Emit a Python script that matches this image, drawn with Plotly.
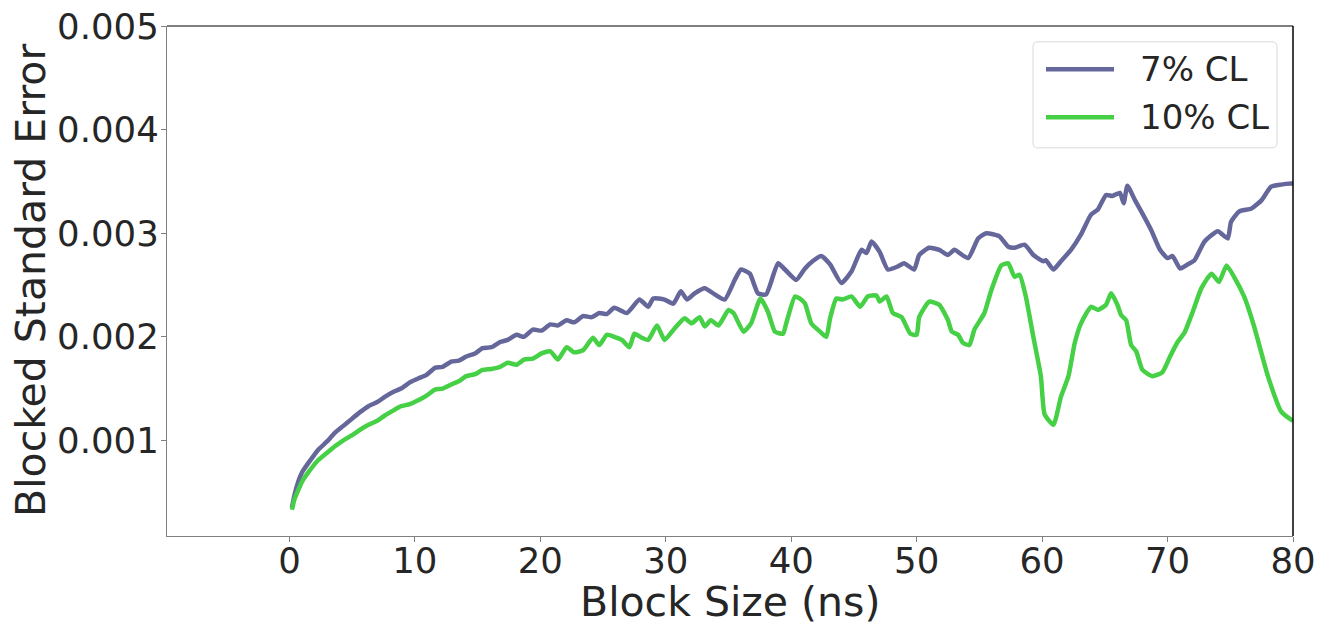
import plotly.graph_objects as go

# ---- data ----
x_7 = [0.2, 0.4, 0.7, 1.0, 1.5, 2.3, 3.0, 3.6, 4.3, 5.0, 5.6, 6.3, 7.0, 7.6, 8.3, 8.9, 9.6, 10.3,
       10.9, 11.6, 12.2, 12.9, 13.5, 14.1, 14.8, 15.4, 16.1, 16.8, 17.4, 18.1, 18.7, 19.4, 20.1,
       20.8, 21.4, 22.1, 22.7, 23.4, 24.1, 24.7, 25.3, 25.9, 26.9, 27.9, 28.6, 29.0, 29.9, 30.6,
       31.2, 31.7, 32.3, 33.1, 33.9, 34.7, 35.5, 36.0, 36.7, 37.35, 38.0, 38.95, 39.5, 40.4, 41.1,
       41.7, 42.4, 43.1, 44.0, 44.8, 45.6, 46.0, 46.4, 47.05, 47.7, 48.5, 49.0, 49.8, 50.2, 51.0,
       51.8, 52.5, 53.0, 54.1, 54.9, 55.55, 56.6, 57.3, 57.8, 58.6, 59.3, 60.1, 60.3, 60.9, 61.5,
       62.3, 63.1, 63.9, 64.45, 65.1, 65.6, 66.2, 66.5, 66.8, 67.4, 68.0, 68.7, 69.4, 70.0, 70.4,
       71.0, 71.6, 72.15, 72.95, 74.0, 74.8, 75.06, 75.7, 76.7, 77.5, 78.25, 79.05, 79.85, 80.0]
y_7 = [0.00035, 0.00047, 0.00060, 0.00069, 0.00078, 0.00091, 0.00099, 0.00107, 0.00114, 0.00121,
       0.00127, 0.00133, 0.00137, 0.00142, 0.00147, 0.00150, 0.00156, 0.00160, 0.00163, 0.00170,
       0.00171, 0.00176, 0.00177, 0.00181, 0.00184, 0.00189, 0.00190, 0.00195, 0.00197, 0.00202,
       0.00200, 0.00207, 0.00206, 0.00212, 0.00211, 0.00216, 0.00214, 0.00220, 0.00219, 0.00223,
       0.00222, 0.00228, 0.00223, 0.00236, 0.00229, 0.00237, 0.00236, 0.00232, 0.00244, 0.00236,
       0.00242, 0.00247, 0.00241, 0.00236, 0.00255, 0.00265, 0.00261, 0.00242, 0.00241, 0.00271,
       0.00265, 0.00255, 0.00266, 0.00273, 0.00278, 0.00270, 0.00252, 0.00263, 0.00284, 0.00281,
       0.00292, 0.00282, 0.00265, 0.00268, 0.00271, 0.00265, 0.00279, 0.00286, 0.00284, 0.00279,
       0.00284, 0.00276, 0.00295, 0.00300, 0.00297, 0.00287, 0.00286, 0.00289, 0.00279, 0.00273,
       0.00274, 0.00265, 0.00273, 0.00284, 0.00299, 0.00318, 0.00323, 0.00337, 0.00336, 0.00339,
       0.00329, 0.00346, 0.00332, 0.00319, 0.00303, 0.00284, 0.00276, 0.00278, 0.00266, 0.00270,
       0.00274, 0.00292, 0.00302, 0.00295, 0.00311, 0.00321, 0.00324, 0.00332, 0.00345, 0.00347,
       0.00348, 0.00348]

x_10 = [0.2, 0.4, 0.7, 1.0, 1.5, 2.3, 3.0, 3.6, 4.3, 5.0, 5.6, 6.3, 7.0, 7.6, 8.3, 8.9, 9.6, 10.3,
        10.9, 11.6, 12.2, 12.9, 13.5, 14.1, 14.8, 15.4, 16.1, 16.8, 17.4, 18.1, 18.7, 19.4, 20.1,
        20.8, 21.4, 22.1, 22.7, 23.4, 24.2, 24.7, 25.3, 25.9, 26.5, 27.1, 27.5, 28.1, 28.6, 29.3,
        29.9, 30.7, 31.5, 32.05, 32.7, 33.1, 33.6, 34.2, 35.0, 35.4, 36.2, 36.8, 37.55, 38.15, 38.7,
        39.35, 39.6, 40.3, 40.7, 41.1, 41.6, 42.3, 42.8, 43.1, 43.6, 44.1, 44.8, 45.5, 46.1, 46.8,
        47.05, 47.6, 48.1, 48.8, 49.5, 50.0, 50.2, 51.0, 51.8, 52.5, 52.8, 53.3, 53.7, 54.2, 54.6,
        55.4, 55.95, 56.75, 57.3, 57.8, 58.2, 58.7, 59.3, 59.9, 60.2, 60.9, 61.5, 62.1, 62.6, 63.1,
        63.9, 64.45, 65.1, 65.5, 66.0, 66.3, 66.7, 67.1, 67.5, 68.0, 68.8, 69.6, 70.2, 70.8, 71.35,
        72.0, 72.7, 73.5, 74.1, 74.7, 75.3, 76.1, 76.9, 78.0, 79.05, 79.85, 80.0]
y_10 = [0.00033, 0.00043, 0.00052, 0.00060, 0.00069, 0.00081, 0.00088, 0.00094, 0.00100, 0.00105,
        0.00110, 0.00115, 0.00119, 0.00124, 0.00129, 0.00133, 0.00135, 0.00139, 0.00143, 0.00149,
        0.00150, 0.00154, 0.00157, 0.00162, 0.00164, 0.00168, 0.00169, 0.00171, 0.00175, 0.00173,
        0.00178, 0.00179, 0.00184, 0.00186, 0.00178, 0.00190, 0.00185, 0.00187, 0.00199, 0.00192,
        0.00202, 0.00200, 0.00197, 0.00190, 0.00203, 0.00199, 0.00197, 0.00211, 0.00197, 0.00208,
        0.00218, 0.00213, 0.00219, 0.00210, 0.00216, 0.00211, 0.00226, 0.00223, 0.00205, 0.00213,
        0.00237, 0.00224, 0.00205, 0.00203, 0.00213, 0.00239, 0.00237, 0.00232, 0.00213, 0.00205,
        0.00200, 0.00218, 0.00237, 0.00236, 0.00239, 0.00229, 0.00239, 0.00240, 0.00234, 0.00239,
        0.00223, 0.00219, 0.00203, 0.00202, 0.00219, 0.00234, 0.00231, 0.00216, 0.00205, 0.00202,
        0.00194, 0.00192, 0.00207, 0.00223, 0.00245, 0.00269, 0.00271, 0.00258, 0.00260, 0.00239,
        0.00200, 0.00162, 0.00125, 0.00115, 0.00142, 0.00162, 0.00194, 0.00213, 0.00229, 0.00226,
        0.00231, 0.00242, 0.00231, 0.00221, 0.00216, 0.00192, 0.00186, 0.00168, 0.00162, 0.00166,
        0.00181, 0.00195, 0.00204, 0.00224, 0.00247, 0.00261, 0.00253, 0.00269, 0.00258, 0.00239,
        0.00210, 0.00162, 0.00128, 0.00120, 0.00119]

series_names = ["7% CL", "10% CL"]
series_colors = ["#65679b", "#46d046"]
x_ticks = [0, 10, 20, 30, 40, 50, 60, 70, 80]
y_ticks = [0.001, 0.002, 0.003, 0.004, 0.005]
y_ticktext = ["0.001", "0.002", "0.003", "0.004", "0.005"]
x_title = "Block Size (ns)"
y_title = "Blocked Standard Error"

FONT = "DejaVu Sans"
TXT = "#262626"

# page body has an 8px margin: figure coords = reference coords - 8
OFF = 8
W, H = 1331 - OFF, 626 - OFF
PL, PR, PT, PB = 167 - OFF, 1293 - OFF, 26.2 - OFF, 536 - OFF   # plot area in figure px
L, R, T, B = PL, W - PR, PT, H - PB
pw, ph = PR - PL, PB - PT


def px(xr):
    """reference x pixel -> paper x"""
    return (xr - OFF - PL) / pw


def py(yr):
    """reference y pixel -> paper y"""
    return (PB - (yr - OFF)) / ph


fig = go.Figure()
for xs, ys, name, col in [(x_7, y_7, series_names[0], series_colors[0]),
                          (x_10, y_10, series_names[1], series_colors[1])]:
    fig.add_trace(go.Scatter(x=xs, y=ys, mode="lines", name=name,
                             line=dict(color=col, width=4.5, shape="spline", smoothing=0.5),
                             showlegend=False))

shapes = []
# top and right spines (black)
shapes.append(dict(type="line", xref="paper", yref="paper", x0=0, x1=1, y0=1, y1=1,
                   line=dict(color="black", width=1.2)))
shapes.append(dict(type="line", xref="paper", yref="paper", x0=1, x1=1, y0=0, y1=1,
                   line=dict(color="black", width=1.5)))

# manual legend box with rounded corners
bx0, bx1, by0, by1, r = 1033, 1277, 42, 148, 5
rx, ry = r / pw, r / ph
X0, X1, Y0, Y1 = px(bx0), px(bx1), py(by1), py(by0)
path = (f"M {X0+rx},{Y1} L {X1-rx},{Y1} Q {X1},{Y1} {X1},{Y1-ry} "
        f"L {X1},{Y0+ry} Q {X1},{Y0} {X1-rx},{Y0} L {X0+rx},{Y0} "
        f"Q {X0},{Y0} {X0},{Y0+ry} L {X0},{Y1-ry} Q {X0},{Y1} {X0+rx},{Y1} Z")
shapes.append(dict(type="path", xref="paper", yref="paper", path=path,
                   fillcolor="rgba(255,255,255,0.8)", line=dict(color="#d9d9d9", width=1)))
annotations = []
for i, (name, col) in enumerate(zip(series_names, series_colors)):
    yy = 69.5 + i * 48
    shapes.append(dict(type="line", xref="paper", yref="paper", x0=px(1046), x1=px(1114),
                       y0=py(yy), y1=py(yy), line=dict(color=col, width=4.5)))
    annotations.append(dict(xref="paper", yref="paper", x=px(1138), y=py(yy), text=name,
                            showarrow=False, xanchor="left", yanchor="middle",
                            font=dict(family=FONT, size=34, color=TXT)))

# axis titles
annotations.append(dict(xref="paper", yref="paper", x=0.5, y=py(602), text=x_title,
                        showarrow=False, xanchor="center", yanchor="middle",
                        font=dict(family=FONT, size=41, color=TXT)))
annotations.append(dict(xref="paper", yref="paper", x=px(31), y=py(281), text=y_title,
                        textangle=-90, showarrow=False, xanchor="center", yanchor="middle",
                        font=dict(family=FONT, size=41, color=TXT)))

fig.update_layout(
    width=W, height=H,
    margin=dict(l=L, r=R, t=T, b=B, pad=0),
    paper_bgcolor="white", plot_bgcolor="white",
    font=dict(family=FONT, color=TXT),
    shapes=shapes, annotations=annotations,
    xaxis=dict(range=[-9.76, 80], tickvals=x_ticks, ticks="outside", ticklen=5, tickwidth=1.2,
               tickcolor="#808080", showline=True, linecolor="#808080", linewidth=1.3,
               showgrid=False, zeroline=False, tickfont=dict(size=35.5, color=TXT),
               ticklabelstandoff=-12, ticklabeloverflow="allow", automargin=False),
    yaxis=dict(range=[0.0000763, 0.005002], tickvals=y_ticks, ticktext=y_ticktext, ticks="outside",
               ticklen=5, tickwidth=1.2, tickcolor="#808080", showline=True, linecolor="#808080",
               linewidth=1.3, showgrid=False, zeroline=False, tickfont=dict(size=35.5, color=TXT),
               ticklabelstandoff=-5, ticklabeloverflow="allow", automargin=False),
)

fig.write_html("out.html")
